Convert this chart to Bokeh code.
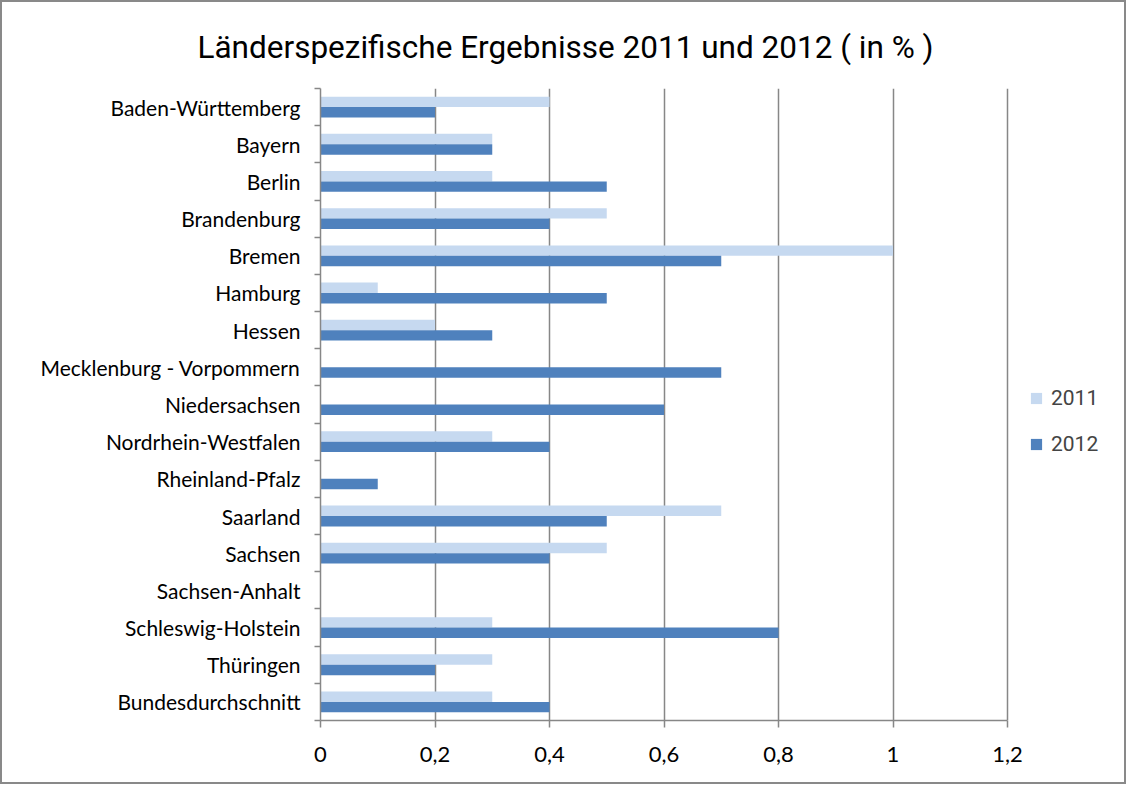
from bokeh.plotting import figure
from bokeh.models import (Range1d, FixedTicker, CustomJSTickFormatter, Legend, LegendItem,
                          ColumnDataSource, Title)
from bokeh.embed import file_html
from bokeh.resources import INLINE

categories = ["Baden-Württemberg", "Bayern", "Berlin", "Brandenburg", "Bremen", "Hamburg",
              "Hessen", "Mecklenburg - Vorpommern", "Niedersachsen", "Nordrhein-Westfalen",
              "Rheinland-Pfalz", "Saarland", "Sachsen", "Sachsen-Anhalt", "Schleswig-Holstein",
              "Thüringen", "Bundesdurchschnitt"]
values_2011 = [0.4, 0.3, 0.3, 0.5, 1.0, 0.1, 0.2, 0, 0, 0.3, 0, 0.7, 0.5, 0, 0.3, 0.3, 0.3]
values_2012 = [0.2, 0.3, 0.5, 0.4, 0.7, 0.5, 0.3, 0.7, 0.6, 0.4, 0.1, 0.5, 0.4, 0, 0.8, 0.2, 0.4]
x_ticks = [0, 0.2, 0.4, 0.6, 0.8, 1.0, 1.2]
title_text = "Länderspezifische Ergebnisse 2011 und 2012 ( in % )"
series_names = ["2011", "2012"]

n = len(categories)
centers = [n - i - 0.5 for i in range(n)]
boundaries = [float(i) for i in range(n + 1)]
bar_h = 0.28
off = 0.14

src = ColumnDataSource(dict(
    y11=[c + off for c in centers],
    y12=[c - off for c in centers],
    v11=values_2011,
    v12=values_2012,
))

LIGHT = "#C6D9F0"
DARK = "#4F81BD"
GRAY = "#878787"
LABEL_FONT = "Lato"

W, H = 1126, 784
LEFT, RIGHT, TOP, BOTTOM = 318, 6, 86, 66
axis_px = 687  # pixel length of the 0..1.2 value axis
frame_px = W - LEFT - RIGHT
x_max = x_ticks[-1]
x_end = x_max * frame_px / axis_px  # extra room on the right for the legend

p = figure(width=W, height=H, x_range=Range1d(0, x_end), y_range=Range1d(0, n),
           output_backend="svg", toolbar_location=None,
           min_border_left=LEFT, min_border_right=RIGHT, min_border_top=TOP,
           min_border_bottom=BOTTOM,
           x_axis_location="below", y_axis_location="left", title=None)
p.outline_line_color = None
p.background_fill_color = "white"
p.border_fill_color = "white"
p.styles = {"border": "2px solid #898989", "box-sizing": "border-box"}

r11 = p.hbar(y="y11", right="v11", left=0, height=bar_h, source=src,
             fill_color=LIGHT, line_color=None)
r12 = p.hbar(y="y12", right="v12", left=0, height=bar_h, source=src,
             fill_color=DARK, line_color=None)

# x axis
xa = p.xaxis[0]
xa.bounds = (0, x_max)
xa.ticker = FixedTicker(ticks=x_ticks, minor_ticks=[])
xa.formatter = CustomJSTickFormatter(code="return String(Math.round(tick*10)/10).replace('.', ',');")
xa.axis_line_color = GRAY
xa.axis_line_width = 1.5
xa.major_tick_line_color = GRAY
xa.major_tick_line_width = 1.5
xa.major_tick_in = 0
xa.major_tick_out = 7
xa.minor_tick_line_color = None
xa.major_label_standoff = 19
xa.major_label_text_font = LABEL_FONT
xa.major_label_text_font_size = "22px"
xa.major_label_text_color = "black"

# y axis
ya = p.yaxis[0]
ya.ticker = FixedTicker(ticks=centers, minor_ticks=boundaries)
ya.major_label_overrides = {c: categories[i] for i, c in enumerate(centers)}
ya.axis_line_color = GRAY
ya.axis_line_width = 1.5
ya.major_tick_line_color = None
ya.major_tick_in = 0
ya.major_tick_out = 0
ya.minor_tick_line_color = GRAY
ya.minor_tick_line_width = 1.5
ya.minor_tick_in = 0
ya.minor_tick_out = 6
ya.major_label_standoff = 14
ya.major_label_text_font = LABEL_FONT
ya.major_label_text_font_size = "21px"
ya.major_label_text_color = "black"

p.xgrid.ticker = FixedTicker(ticks=x_ticks)
p.xgrid.grid_line_color = GRAY
p.xgrid.grid_line_width = 1.5
p.ygrid.grid_line_color = None

# title
p.add_layout(Title(text=title_text, align="left", offset=-123, standoff=46,
                   text_font="Roboto", text_font_size="31.5px", text_font_style="normal",
                   text_color="black"), "above")

legend = Legend(items=[LegendItem(label=series_names[0], renderers=[r11]),
                       LegendItem(label=series_names[1], renderers=[r12])],
                location=(709, 264), orientation="vertical",
                padding=0, margin=0, spacing=22,
                glyph_width=14, glyph_height=14, label_height=24,
                label_text_font="Roboto", label_text_font_size="21px",
                label_standoff=8,
                border_line_color=None, background_fill_alpha=0)
p.add_layout(legend)

open("out.html", "w").write(file_html(p, INLINE))
